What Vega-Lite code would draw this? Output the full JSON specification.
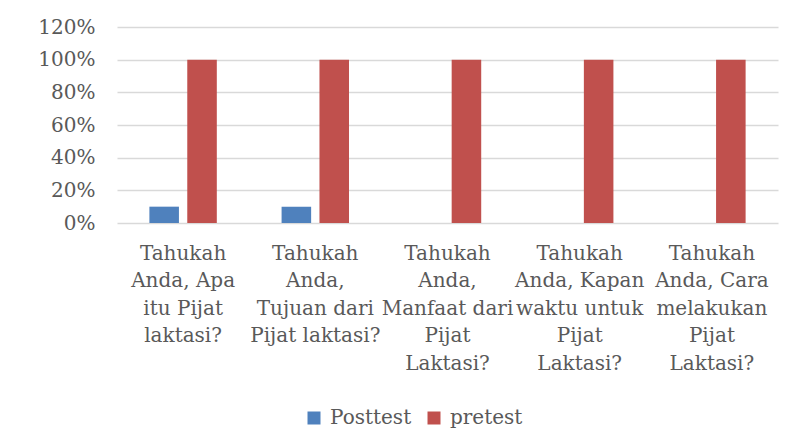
{
  "$schema": "https://vega.github.io/schema/vega-lite/v6.json",
  "autosize": {"type": "none"},
  "width": 661,
  "height": 196,
  "padding": {"left": 117, "top": 27, "right": 14, "bottom": 224},
  "background": "white",
  "data": {"values": [
    {"q": "Tahukah\nAnda, Apa\nitu Pijat\nlaktasi?", "series": "Posttest", "value": 0.1},
    {"q": "Tahukah\nAnda, Apa\nitu Pijat\nlaktasi?", "series": "pretest", "value": 1.0},
    {"q": "Tahukah\nAnda,\nTujuan dari\nPijat laktasi?", "series": "Posttest", "value": 0.1},
    {"q": "Tahukah\nAnda,\nTujuan dari\nPijat laktasi?", "series": "pretest", "value": 1.0},
    {"q": "Tahukah\nAnda,\nManfaat dari\nPijat\nLaktasi?", "series": "Posttest", "value": 0},
    {"q": "Tahukah\nAnda,\nManfaat dari\nPijat\nLaktasi?", "series": "pretest", "value": 1.0},
    {"q": "Tahukah\nAnda, Kapan\nwaktu untuk\nPijat\nLaktasi?", "series": "Posttest", "value": 0},
    {"q": "Tahukah\nAnda, Kapan\nwaktu untuk\nPijat\nLaktasi?", "series": "pretest", "value": 1.0},
    {"q": "Tahukah\nAnda, Cara\nmelakukan\nPijat\nLaktasi?", "series": "Posttest", "value": 0},
    {"q": "Tahukah\nAnda, Cara\nmelakukan\nPijat\nLaktasi?", "series": "pretest", "value": 1.0}
  ]},
  "mark": {"type": "bar"},
  "encoding": {
    "x": {
      "field": "q", "type": "nominal", "sort": null, "title": null,
      "scale": {"paddingInner": 0.49, "paddingOuter": 0.245},
      "axis": {
        "labelAngle": 0, "ticks": false, "domain": false,
        "labelExpr": "split(datum.label, '\\n')",
        "labelFont": "DejaVu Serif", "labelFontSize": 20, "labelColor": "#595959",
        "labelLineHeight": 27.5, "labelPadding": 20, "labelBaseline": "top",
        "labelLimit": 0
      }
    },
    "xOffset": {"field": "series", "type": "nominal", "scale": {"paddingInner": 0.22}},
    "y": {
      "field": "value", "type": "quantitative", "title": null,
      "scale": {"domain": [0, 1.2], "nice": false},
      "axis": {
        "format": ".0%", "values": [0, 0.2, 0.4, 0.6, 0.8, 1.0, 1.2],
        "ticks": false, "domain": false,
        "labelFont": "DejaVu Serif", "labelFontSize": 20, "labelColor": "#595959",
        "labelPadding": 22,
        "gridColor": "#d9d9d9", "gridWidth": 1.3
      }
    },
    "color": {
      "field": "series", "type": "nominal", "title": null,
      "scale": {"domain": ["Posttest", "pretest"], "range": ["#4F81BD", "#C0504D"]},
      "legend": {
        "orient": "none", "legendX": 187, "legendY": 381, "direction": "horizontal",
        "symbolType": "square", "symbolSize": 169, "symbolStrokeWidth": 0,
        "labelFont": "DejaVu Serif", "labelFontSize": 20, "labelColor": "#595959",
        "columnPadding": 12, "labelOffset": 6
      }
    }
  },
  "config": {
    "view": {"stroke": null}
  }
}
